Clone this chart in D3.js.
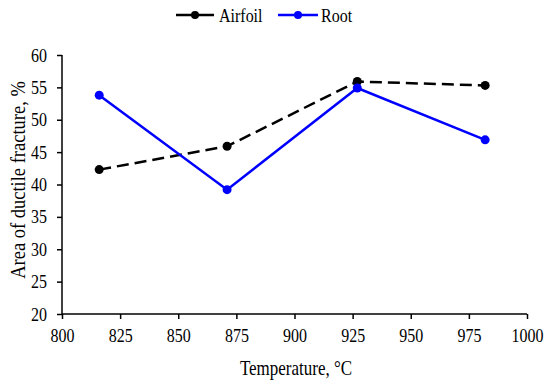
<!DOCTYPE html>
<html><head><meta charset="utf-8">
<script src="https://cdn.jsdelivr.net/npm/d3@7"></script>
<style>body{margin:0;background:#fff}
text{font-family:"Liberation Serif","Times New Roman",serif !important;fill:#000}
.st{transform-box:fill-box;transform-origin:center;transform:scaleY(1.18)}
</style>
</head><body><svg id="c" width="550" height="389"></svg>
<script>
const temps = [816, 871, 927, 982];
const airfoil = [42.3, 45.9, 55.9, 55.3];
const root = [53.8, 39.2, 54.9, 46.9];
const xTicks = [800, 825, 850, 875, 900, 925, 950, 975, 1000];
const yTicks = [20, 25, 30, 35, 40, 45, 50, 55, 60];
const seriesNames = ["Airfoil", "Root"];
const seriesColors = ["#000000", "#0000ff"];

const svg = d3.select("#c");
const x = d3.scaleLinear().domain([800, 1000]).range([62, 527]);
const y = d3.scaleLinear().domain([20, 60]).range([314, 55]);

const gx = svg.append("g").attr("transform", "translate(0,314)")
  .call(d3.axisBottom(x).tickValues(xTicks).tickSize(5).tickPadding(11).tickFormat(d3.format("d")));
const gy = svg.append("g").attr("transform", "translate(62,0)")
  .call(d3.axisLeft(y).tickValues(yTicks).tickSize(5).tickPadding(10).tickFormat(d3.format("d")));
[gx, gy].forEach(g => {
  g.attr("font-family", null);
  g.selectAll("path,line").attr("stroke", "#000").attr("stroke-width", 1.5);
  g.selectAll("text").attr("class", "st").style("font-size", "16px");
});
gx.select(".domain").attr("d", "M62,0H527");
gy.select(".domain").attr("d", "M0,314V55");

const line = d3.line().x((d, i) => x(temps[i])).y(d => y(d));
const data = [airfoil, root];
data.forEach((vals, k) => {
  svg.append("path").datum(vals).attr("d", line).attr("fill", "none")
    .attr("stroke", seriesColors[k]).attr("stroke-width", 2.5)
    .attr("stroke-dasharray", k === 0 ? "12,6" : null);
  svg.selectAll(null).data(vals).enter().append("circle")
    .attr("cx", (d, i) => x(temps[i])).attr("cy", d => y(d)).attr("r", 4.5)
    .attr("fill", seriesColors[k]);
});

// legend
const leg = [{x1: 176, x2: 214, tx: 219}, {x1: 278, x2: 318, tx: 321}];
leg.forEach((l, k) => {
  svg.append("line").attr("x1", l.x1).attr("x2", l.x2).attr("y1", 15).attr("y2", 15)
    .attr("stroke", seriesColors[k]).attr("stroke-width", 2.5);
  svg.append("circle").attr("cx", (l.x1 + l.x2) / 2).attr("cy", 15).attr("r", 4).attr("fill", seriesColors[k]);
  svg.append("text").attr("class", "st").attr("x", l.tx).attr("y", 21).style("font-size", "16px").text(seriesNames[k]);
});

svg.append("text").attr("transform", "translate(25,180) rotate(-90) scale(1,1.15)").attr("text-anchor", "middle")
  .style("font-size", "18.5px").text("Area of ductile fracture, %");
svg.append("text").attr("class", "st").attr("x", 296).attr("y", 374).attr("text-anchor", "middle")
  .style("font-size", "17px").text("Temperature, °C");
</script></body></html>
